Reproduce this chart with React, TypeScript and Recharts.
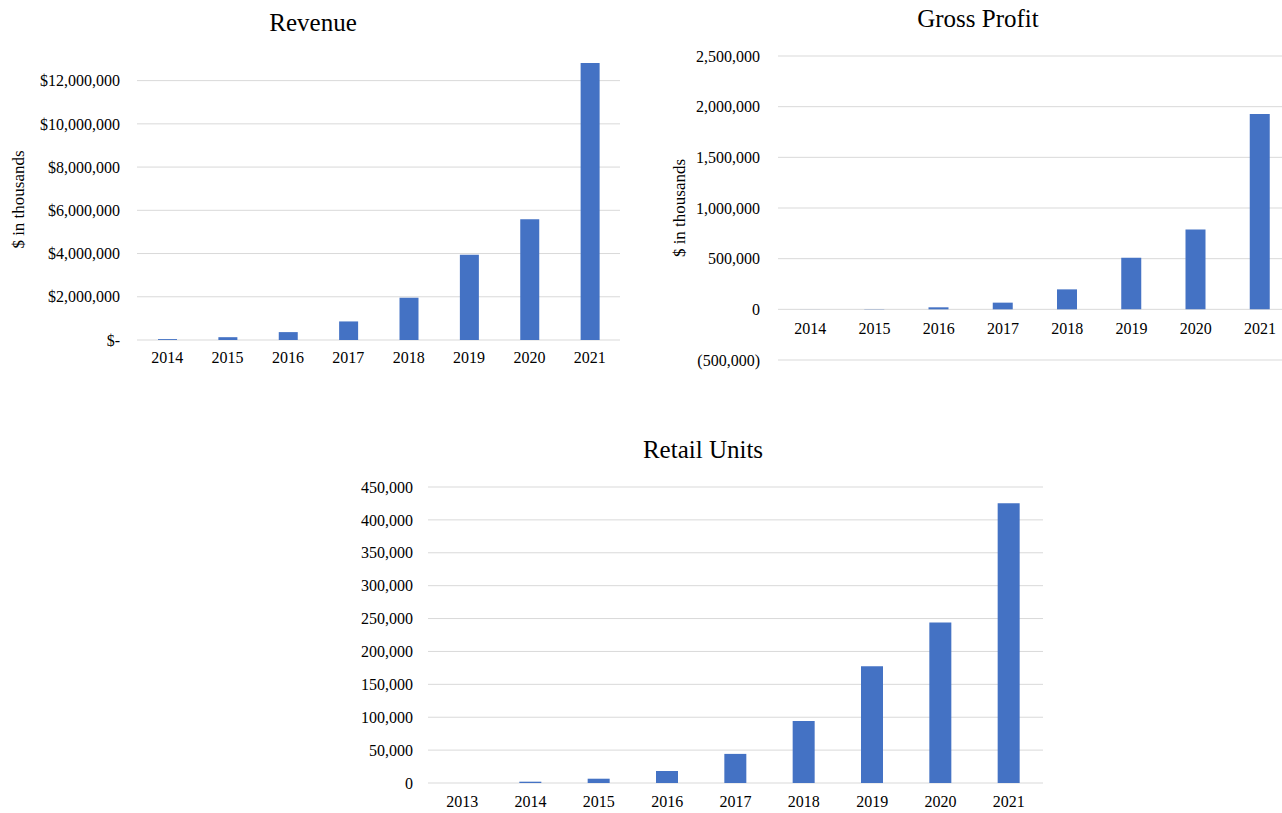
import { Bar, BarChart, CartesianGrid, XAxis, YAxis } from "recharts";

const FONT = '"Liberation Serif", "Times New Roman", serif';
const BLUE = "#4472C4";
const GRID = "#d9d9d9";

// Revenue ($ in thousands)
const revenueYears = ["2014", "2015", "2016", "2017", "2018", "2019", "2020", "2021"];
const revenueValues = [41973, 130392, 365148, 858870, 1955467, 3939896, 5586565, 12814331];
const revenueTicks = [0, 2000000, 4000000, 6000000, 8000000, 10000000, 12000000];

// Gross profit ($ in thousands)
const profitYears = ["2014", "2015", "2016", "2017", "2018", "2019", "2020", "2021"];
const profitValues = [500, 2300, 20000, 66000, 197000, 510000, 789000, 1928000];
const profitTicks = [-500000, 0, 500000, 1000000, 1500000, 2000000, 2500000];

// Retail units
const unitYears = ["2013", "2014", "2015", "2016", "2017", "2018", "2019", "2020", "2021"];
const unitValues = [0, 1987, 6523, 18225, 44252, 94108, 177549, 244111, 425237];
const unitTicks = [0, 50000, 100000, 150000, 200000, 250000, 300000, 350000, 400000, 450000];

const revenueData = revenueYears.map((year, i) => ({ year, value: revenueValues[i] }));
const profitData = profitYears.map((year, i) => ({ year, value: profitValues[i] }));
const unitData = unitYears.map((year, i) => ({ year, value: unitValues[i] }));

const num = (v: number) => Math.abs(v).toLocaleString("en-US");
const fmtDollar = (v: number) => (v === 0 ? "$-" : "$" + num(v));
const fmtParen = (v: number) => (v < 0 ? `(${num(v)})` : num(v));

const tickStyle = { fill: "#000", fontSize: 16, fontFamily: FONT };
const labelStyle = { textAnchor: "middle" as const, fill: "#000", fontSize: 17, fontFamily: FONT };

// gross profit layout: category labels sit just under the zero line
const GP_TOP = 56;
const GP_HEIGHT = 304;
const GP_MIN = -500000;
const GP_MAX = 2500000;

function ProfitTick(props: any) {
  const { x, payload } = props;
  const zeroY = GP_TOP + (GP_HEIGHT * GP_MAX) / (GP_MAX - GP_MIN);
  return (
    <text x={x} y={zeroY + 13} dy="0.71em" textAnchor="middle" {...tickStyle}>
      {payload.value}
    </text>
  );
}

function Title({ text, x, y }: { text: string; x: number; y: number }) {
  return (
    <div
      style={{
        position: "absolute",
        left: x,
        top: y,
        transform: "translate(-50%, -50%)",
        fontSize: 25,
        lineHeight: 1,
        whiteSpace: "nowrap",
        color: "#000",
      }}
    >
      {text}
    </div>
  );
}

export default function App() {
  return (
    <div
      style={{
        position: "absolute",
        left: 0,
        top: 0,
        width: 1282,
        height: 813,
        overflow: "hidden",
        background: "#fff",
        fontFamily: FONT,
      }}
    >
      <div style={{ position: "absolute", left: 0, top: 0 }}>
        <BarChart width={640} height={380} data={revenueData} margin={{ top: 59, right: 20, left: 0, bottom: 0 }}>
          <CartesianGrid vertical={false} stroke={GRID} horizontalValues={revenueTicks} />
          <XAxis dataKey="year" height={40} axisLine={false} tickLine={false} tickSize={0} tickMargin={12} tick={tickStyle} interval={0} />
          <YAxis
            width={137}
            domain={[0, 13000000]}
            ticks={revenueTicks}
            tickFormatter={fmtDollar}
            axisLine={false}
            tickLine={false}
            tickSize={0}
            tickMargin={17}
            tick={tickStyle}
            label={{ value: "$ in thousands", angle: -90, position: "insideLeft", offset: 18, style: labelStyle }}
          />
          <Bar dataKey="value" fill={BLUE} barSize={19} isAnimationActive={false} />
        </BarChart>
      </div>
      <Title text="Revenue" x={313} y={22} />

      <div style={{ position: "absolute", left: 640, top: 0 }}>
        <BarChart width={660} height={380} data={profitData} margin={{ top: GP_TOP, right: 8, left: 0, bottom: 0 }}>
          <CartesianGrid vertical={false} stroke={GRID} horizontalValues={profitTicks} />
          <XAxis dataKey="year" height={20} axisLine={false} tickLine={false} tickSize={0} tick={<ProfitTick />} interval={0} />
          <YAxis
            width={138}
            domain={[GP_MIN, GP_MAX]}
            ticks={profitTicks}
            tickFormatter={fmtParen}
            axisLine={false}
            tickLine={false}
            tickSize={0}
            tickMargin={18}
            tick={tickStyle}
            label={{ value: "$ in thousands", angle: -90, position: "insideLeft", offset: 39, style: labelStyle }}
          />
          <Bar dataKey="value" fill={BLUE} barSize={20} isAnimationActive={false} />
        </BarChart>
      </div>
      <Title text="Gross Profit" x={978} y={18} />

      <div style={{ position: "absolute", left: 330, top: 420 }}>
        <BarChart width={730} height={393} data={unitData} margin={{ top: 67, right: 17, left: 0, bottom: 0 }}>
          <CartesianGrid vertical={false} stroke={GRID} horizontalValues={unitTicks} />
          <XAxis dataKey="year" height={30} axisLine={false} tickLine={false} tickSize={0} tickMargin={13} tick={tickStyle} interval={0} />
          <YAxis
            width={98}
            domain={[0, 450000]}
            ticks={unitTicks}
            tickFormatter={fmtParen}
            axisLine={false}
            tickLine={false}
            tickSize={0}
            tickMargin={15}
            tick={tickStyle}
          />
          <Bar dataKey="value" fill={BLUE} barSize={22} isAnimationActive={false} />
        </BarChart>
      </div>
      <Title text="Retail Units" x={703} y={449} />
    </div>
  );
}
